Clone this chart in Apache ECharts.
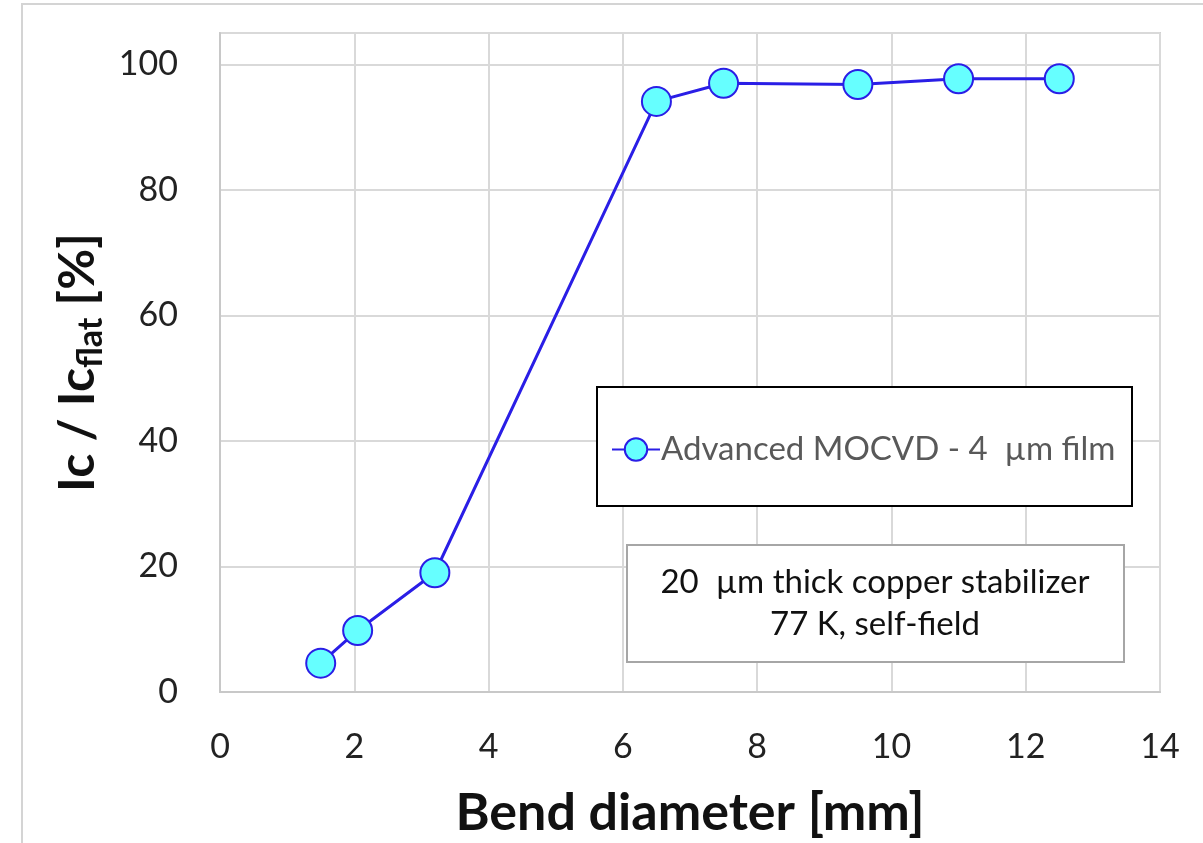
<!DOCTYPE html>
<html>
<head>
<meta charset="utf-8">
<script src="https://cdn.jsdelivr.net/npm/echarts@6/dist/echarts.min.js"></script>
<style>
  html, body { margin: 0; padding: 0; background: #fff; }
  #chart { width: 1203px; height: 843px; }
</style>
</head>
<body>
<div id="chart"></div>
<script>
// bend diameter [mm] and retained Ic [%]
var bendDiameter = [1.5, 2.05, 3.2, 6.5, 7.5, 9.5, 11, 12.5]
var icRatio = [4.6, 9.8, 19.0, 94.1, 97.0, 96.8, 97.7, 97.7]
var seriesName = 'Advanced MOCVD - 4  µm film'
var noteLines = ['20  µm thick copper stabilizer', '77 K, self-field']

var font = 'Lato, "Open Sans", sans-serif'
var myChart = echarts.init(document.getElementById('chart'))

var points = bendDiameter.map(function (x, i) { return [x, icRatio[i]] })

var option = {
  backgroundColor: '#fff',
  animation: false,
  textStyle: { fontFamily: font },
  grid: {
    left: 220, top: 33, right: 43, bottom: 151,
    outerBoundsMode: 'none', containLabel: false,
    show: true, borderColor: '#d0d0d0', borderWidth: 2
  },
  legend: {
    data: [seriesName],
    left: 606, top: 428, z: 20,
    itemWidth: 48, itemHeight: 28, itemGap: 0,
    textStyle: { fontSize: 33, color: '#595959', fontFamily: font, padding: [0, 0, 0, -4] }
  },
  xAxis: {
    type: 'value', min: 0, max: 14, interval: 2,
    name: 'Bend diameter [mm]', nameLocation: 'middle', nameGap: 95,
    nameTextStyle: { fontSize: 52, fontWeight: 'bold', color: '#111', fontFamily: font },
    axisLine: { show: true, lineStyle: { color: '#c8c8c8', width: 2 } },
    axisTick: { show: false },
    axisLabel: { fontSize: 34, color: '#222', margin: 38 },
    splitLine: { show: true, lineStyle: { color: '#d9d9d9', width: 2 } }
  },
  yAxis: {
    type: 'value', min: 0, max: 105, interval: 20,
    name: '{a|Ic / Ic}{b|flat}{a| [%]}', nameLocation: 'middle', nameGap: 108,
    nameTextStyle: {
      color: '#111',
      rich: {
        a: { fontSize: 50, fontWeight: 'bold', fontFamily: font, color: '#111' },
        b: { fontSize: 34, fontWeight: 'bold', fontFamily: font, color: '#111', verticalAlign: 'bottom', padding: [26, 0, 0, 0] }
      }
    },
    axisLine: { show: true, lineStyle: { color: '#c8c8c8', width: 2 } },
    axisTick: { show: false },
    axisLabel: {
      fontSize: 34, color: '#222', margin: 42,
      formatter: function (v) { return v % 20 === 0 ? String(v) : '' }
    },
    splitLine: { show: true, lineStyle: { color: '#d9d9d9', width: 2 } }
  },
  series: [{
    name: seriesName,
    type: 'line',
    data: points,
    symbol: 'circle',
    symbolSize: 29,
    lineStyle: { color: '#2a1ee6', width: 3 },
    itemStyle: { color: '#66ffff', borderColor: '#2a1ee6', borderWidth: 2 }
  }],
  graphic: [
    {
      type: 'rect', silent: true, z: -10,
      shape: { x: 22, y: 4, width: 1200, height: 900 },
      style: { fill: 'none', stroke: '#d4d4d4', lineWidth: 2 }
    },
    {
      type: 'rect', z: 5,
      shape: { x: 597, y: 387, width: 535, height: 119 },
      style: { fill: '#fff', stroke: '#000', lineWidth: 2 }
    },
    {
      type: 'rect', z: 5,
      shape: { x: 627, y: 545, width: 497, height: 117 },
      style: { fill: '#fff', stroke: '#a6a6a6', lineWidth: 2 }
    },
    {
      type: 'text', z: 6,
      x: 875, y: 561,
      style: {
        text: noteLines.join('\n'),
        textAlign: 'center',
        fontSize: 33, lineHeight: 42,
        fontFamily: font, fill: '#111'
      }
    }
  ]
}
myChart.setOption(option)
</script>
</body>
</html>
